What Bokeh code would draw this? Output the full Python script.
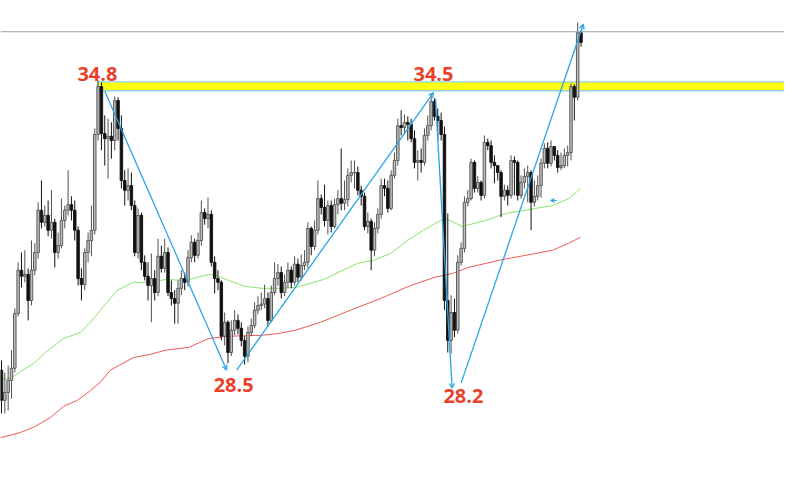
from bokeh.plotting import figure
from bokeh.models import Range1d, Span, Arrow, OpenHead, ColumnDataSource, Label
from bokeh.embed import file_html
from bokeh.resources import INLINE

# ---------------- data (prices) ----------------
opens = [
    28.59, 27.94, 28.11, 28.37, 28.63, 29.81, 30.74, 30.61, 30.65, 30.09,
    30.74, 31.12, 32.03, 31.77, 31.92, 31.60, 31.77, 31.12, 31.27, 31.81,
    32.03, 32.15, 32.03, 31.60, 30.56, 30.43, 31.12, 31.38, 31.60, 33.66,
    34.69, 33.68, 33.57, 33.62, 33.53, 34.39, 33.79, 32.67, 32.46, 32.56,
    32.13, 31.12, 31.92, 30.91, 30.61, 30.41, 30.56, 30.26, 31.04, 30.78,
    31.12, 30.26, 30.13, 30.03, 30.35, 30.56, 30.48, 31.01, 31.34, 31.06,
    31.38, 31.98, 31.85, 31.94, 30.91, 30.56, 30.48, 29.32, 29.62, 28.97,
    29.45, 29.66, 29.49, 29.23, 28.89, 29.40, 29.55, 29.88, 29.98, 30.01,
    30.13, 29.66, 30.26, 30.56, 30.69, 30.26, 30.48, 30.74, 30.48, 30.87,
    30.59, 30.84, 30.91, 31.64, 31.25, 31.60, 32.28, 32.09, 31.81, 32.13,
    31.68, 32.15, 32.28, 32.18, 32.26, 32.78, 32.84, 32.84, 32.46, 32.33,
    31.68, 31.79, 31.17, 31.64, 31.94, 32.56, 32.50, 32.07, 32.78, 33.10,
    33.85, 33.81, 33.92, 33.88, 33.57, 33.06, 33.10, 33.06, 33.64, 33.85,
    34.37, 34.05, 33.96, 33.66, 30.09, 29.23, 29.83, 29.45, 30.91, 31.21,
    32.20, 32.28, 33.06, 32.50, 32.63, 32.35, 33.49, 33.42, 33.06, 32.99,
    32.84, 32.33, 32.46, 32.35, 33.10, 33.06, 32.35, 32.63, 32.76, 32.84,
    32.20, 32.33, 32.56, 33.04, 33.36, 33.04, 33.40, 33.21, 32.95, 32.99,
    33.21, 33.27, 34.69, 34.46, 35.85,
]
closes = [
    27.94, 28.11, 28.37, 28.63, 29.81, 30.74, 30.61, 30.65, 30.09, 30.74,
    31.12, 32.03, 31.77, 31.92, 31.60, 31.77, 31.12, 31.27, 31.81, 32.03,
    32.15, 32.03, 31.60, 30.56, 30.43, 31.12, 31.38, 31.60, 33.66, 34.69,
    33.68, 33.57, 33.62, 33.53, 34.39, 33.79, 32.67, 32.46, 32.56, 32.13,
    31.12, 31.92, 30.91, 30.61, 30.41, 30.56, 30.26, 31.04, 30.78, 31.12,
    30.26, 30.13, 30.03, 30.35, 30.56, 30.48, 31.01, 31.34, 31.06, 31.38,
    31.98, 31.85, 31.94, 30.91, 30.56, 30.48, 29.32, 29.62, 28.97, 29.45,
    29.66, 29.49, 29.23, 28.89, 29.40, 29.55, 29.88, 29.98, 30.01, 30.13,
    29.66, 30.26, 30.56, 30.69, 30.26, 30.48, 30.74, 30.48, 30.87, 30.59,
    30.84, 30.91, 31.64, 31.25, 31.60, 32.28, 32.09, 31.81, 32.13, 31.68,
    32.15, 32.28, 32.18, 32.26, 32.78, 32.84, 32.84, 32.46, 32.33, 31.68,
    31.79, 31.17, 31.64, 31.94, 32.56, 32.50, 32.07, 32.78, 33.10, 33.85,
    33.81, 33.92, 33.88, 33.57, 33.06, 33.10, 33.06, 33.64, 33.85, 34.37,
    34.05, 33.96, 33.66, 30.09, 29.23, 29.83, 29.45, 30.91, 31.21, 32.20,
    32.28, 33.06, 32.50, 32.63, 32.35, 33.49, 33.42, 33.06, 32.99, 32.84,
    32.33, 32.46, 32.35, 33.10, 33.06, 32.35, 32.63, 32.76, 32.84, 32.20,
    32.33, 32.56, 33.04, 33.36, 33.04, 33.40, 33.21, 32.95, 32.99, 33.21,
    33.27, 34.69, 34.46, 35.85, 35.64,
]
highs = [
    28.80, 28.54, 28.69, 29.02, 29.92, 30.91, 31.12, 31.17, 30.78, 31.38,
    31.32, 32.20, 32.67, 32.13, 32.24, 32.46, 31.85, 31.55, 32.28, 32.13,
    32.89, 32.33, 32.24, 31.68, 30.78, 31.21, 31.55, 32.13, 33.79, 34.82,
    34.78, 34.07, 34.00, 33.92, 34.48, 34.46, 34.07, 32.89, 32.93, 32.84,
    32.24, 32.07, 31.98, 31.06, 30.91, 31.10, 30.74, 31.42, 31.27, 31.42,
    31.23, 30.52, 30.31, 30.52, 30.74, 30.69, 31.17, 31.49, 31.42, 31.55,
    32.24, 32.07, 32.30, 32.03, 31.04, 30.74, 30.52, 29.83, 29.66, 29.66,
    29.88, 29.79, 29.62, 29.32, 29.53, 29.70, 30.05, 30.18, 30.26, 30.43,
    30.26, 30.41, 30.91, 30.87, 30.82, 30.65, 30.91, 30.82, 31.04, 30.99,
    31.08, 31.17, 31.77, 31.68, 31.81, 32.67, 32.37, 32.58, 32.24, 32.24,
    32.28, 32.46, 33.36, 32.67, 32.93, 33.10, 33.10, 32.97, 32.56, 32.41,
    31.98, 31.85, 31.77, 32.07, 32.71, 32.71, 32.67, 32.89, 33.27, 34.00,
    34.18, 34.09, 34.05, 34.00, 33.75, 33.32, 33.36, 33.79, 34.07, 34.54,
    34.44, 34.22, 34.13, 33.83, 31.96, 30.20, 30.13, 31.06, 31.34, 32.33,
    32.46, 33.14, 33.10, 32.76, 32.67, 33.64, 33.57, 33.53, 33.21, 32.99,
    32.89, 32.58, 32.56, 33.21, 33.19, 33.10, 32.78, 32.93, 32.99, 32.89,
    32.67, 32.78, 33.14, 33.47, 33.49, 33.53, 33.40, 33.32, 33.27, 33.36,
    33.42, 34.76, 34.74, 36.07, 35.90,
]
lows = [
    27.66, 27.66, 27.72, 27.98, 28.54, 29.75, 30.37, 30.48, 29.66, 29.98,
    30.63, 30.99, 31.64, 31.68, 31.47, 31.42, 30.80, 30.99, 31.21, 31.64,
    31.92, 31.81, 31.38, 30.41, 30.09, 30.31, 30.91, 31.04, 31.51, 33.53,
    33.32, 32.99, 32.71, 33.14, 33.32, 33.53, 32.50, 32.13, 32.24, 32.03,
    31.04, 30.99, 30.74, 30.52, 30.09, 29.62, 30.09, 30.18, 30.69, 30.69,
    30.18, 29.98, 29.59, 29.59, 30.20, 30.31, 30.39, 30.91, 30.91, 30.99,
    31.27, 31.72, 31.64, 30.82, 30.24, 30.31, 29.23, 29.12, 28.74, 28.89,
    29.34, 29.36, 29.10, 28.71, 28.76, 29.32, 29.49, 29.79, 29.88, 29.92,
    29.53, 29.62, 30.20, 30.41, 30.13, 30.18, 30.35, 30.35, 30.41, 30.48,
    30.52, 30.74, 30.78, 31.06, 31.17, 31.51, 31.94, 31.68, 31.51, 31.55,
    31.64, 31.94, 32.03, 32.03, 32.11, 32.63, 32.50, 32.35, 32.13, 31.60,
    31.53, 30.74, 31.04, 31.53, 31.85, 32.33, 31.98, 32.03, 32.71, 32.99,
    33.64, 33.70, 33.53, 33.49, 32.93, 32.67, 32.84, 32.99, 33.53, 33.75,
    33.96, 33.53, 33.53, 29.88, 28.97, 28.95, 29.30, 29.38, 30.84, 31.12,
    32.11, 32.24, 32.41, 32.41, 32.24, 32.28, 33.32, 32.93, 32.61, 32.67,
    31.88, 32.24, 32.13, 32.28, 32.35, 32.24, 32.28, 32.50, 32.20, 31.60,
    32.11, 32.24, 32.30, 32.93, 32.93, 32.97, 33.10, 32.84, 32.89, 32.93,
    32.97, 33.10, 33.96, 34.39, 35.55,
]

# moving averages, sampled along the bars (bar index, price)
ma_fast_idx = [-0.3, 2.7, 5.7, 9.6, 13.2, 18.6, 23.7, 26.7, 29.7, 34.8, 39.6, 44.7,
               49.2, 55.3, 62.2, 64.3, 68.2, 73.3, 78.4, 83.2, 88.3, 96.7, 106.9,
               111.7, 116.8, 121.9, 126.7, 131.8, 133.3, 138.4, 145.3, 151.4,
               160.4, 165.5, 170.3, 173.9]
ma_fast = [28.39, 28.41, 28.56, 28.73, 28.97, 29.27, 29.40, 29.62, 29.88, 30.31,
           30.48, 30.48, 30.54, 30.52, 30.65, 30.63, 30.52, 30.39, 30.35, 30.35,
           30.37, 30.54, 30.89, 30.95, 31.10, 31.38, 31.60, 31.81, 31.85, 31.68,
           31.81, 31.96, 32.07, 32.13, 32.28, 32.50]
ma_slow_idx = [-0.3, 2.7, 5.7, 9.6, 14.7, 18.6, 22.8, 26.7, 29.7, 32.7, 39.6, 44.7,
               49.2, 56.2, 62.2, 68.2, 78.4, 83.2, 88.3, 95.8, 104.8, 113.8, 122.8,
               130.3, 135.4, 140.2, 150.5, 160.4, 165.5, 170.3, 173.9]
ma_slow = [27.14, 27.19, 27.25, 27.36, 27.57, 27.81, 27.94, 28.15, 28.33, 28.59,
           28.86, 28.93, 29.02, 29.08, 29.27, 29.32, 29.34, 29.38, 29.45, 29.62,
           29.88, 30.13, 30.41, 30.59, 30.67, 30.80, 30.97, 31.10, 31.17, 31.32,
           31.45]

# zigzag swings (bar index, price)
zz_x0 = [31.0, 70.6, 130.3, 138.0]
zz_y0 = [34.59, 28.59, 34.43, 28.31]
zz_x1 = [67.6, 129.7, 135.3, 174.7]
zz_y1 = [28.59, 34.56, 28.20, 36.03]

swing_labels = ["34.8", "34.5", "28.5", "28.2"]
swing_label_x = [28.8, 129.7, 69.7, 138.7]
swing_label_y = [34.97, 34.97, 28.28, 28.03]

resistance_left = 28.8
resistance_top = 34.79
resistance_bottom = 34.60
price_line = 35.87
marker_x0, marker_x1, marker_y = 166.7, 164.9, 32.24

# ---------------- figure ----------------
p = figure(width=784, height=484, x_range=Range1d(-0.3, 235.1),
           y_range=Range1d(26.13, 36.542), x_axis_type=None, y_axis_type=None,
           output_backend="svg", toolbar_location=None, min_border=0)
p.grid.visible = False
p.outline_line_color = None
p.background_fill_color = "white"

blue = "#29a5e6"

# resistance band
p.quad(left=[resistance_left], right=[400], top=[resistance_top],
       bottom=[resistance_bottom], fill_color="#ffff14", line_color="#8fd3e3",
       line_width=1.3)

# current price line
p.add_layout(Span(location=price_line, dimension="width",
                  line_color="#9aa1aa", line_width=1))

# moving averages
p.line(ma_fast_idx, ma_fast, line_color="#8ae36a", line_width=1)
p.line(ma_slow_idx, ma_slow, line_color="#ef5a55", line_width=1)

# candles
idx = list(range(len(closes)))
bull = [c >= o for o, c in zip(opens, closes)]
src_up = ColumnDataSource(dict(
    x=[i for i, b in zip(idx, bull) if b],
    o=[o for o, b in zip(opens, bull) if b],
    c=[c for c, b in zip(closes, bull) if b],
    h=[h for h, b in zip(highs, bull) if b],
    l=[l for l, b in zip(lows, bull) if b]))
src_dn = ColumnDataSource(dict(
    x=[i for i, b in zip(idx, bull) if not b],
    o=[o for o, b in zip(opens, bull) if not b],
    c=[c for c, b in zip(closes, bull) if not b],
    h=[h for h, b in zip(highs, bull) if not b],
    l=[l for l, b in zip(lows, bull) if not b]))

p.segment(x0="x", y0="h", x1="x", y1="l", source=src_up, line_color="#505050", line_width=1)
p.segment(x0="x", y0="h", x1="x", y1="l", source=src_dn, line_color="#111111", line_width=1)
p.vbar(x="x", width=0.75, top="c", bottom="o", source=src_up,
       fill_color="#bdbdbd", line_color="#4f4f4f", line_width=0.9)
p.vbar(x="x", width=0.75, top="o", bottom="c", source=src_dn,
       fill_color="#111111", line_color="#111111", line_width=0.9)

# zigzag arrows
for xa, ya, xb, yb in zip(zz_x0, zz_y0, zz_x1, zz_y1):
    p.add_layout(Arrow(end=OpenHead(size=5, line_color=blue, line_width=1.2),
                       x_start=xa, y_start=ya, x_end=xb, y_end=yb,
                       line_color=blue, line_width=1.3))

# small left marker arrow
p.add_layout(Arrow(end=OpenHead(size=4, line_color=blue, line_width=1.2),
                   x_start=marker_x0, y_start=marker_y, x_end=marker_x1, y_end=marker_y,
                   line_color=blue, line_width=1.2))

# swing labels
for t, lx, ly in zip(swing_labels, swing_label_x, swing_label_y):
    p.add_layout(Label(x=lx, y=ly, text=t, text_font="Open Sans",
                       text_font_style="bold", text_font_size="20px",
                       text_color="#ea3f2b", text_align="center",
                       text_baseline="middle"))

open("out.html", "w").write(file_html(p, INLINE))
